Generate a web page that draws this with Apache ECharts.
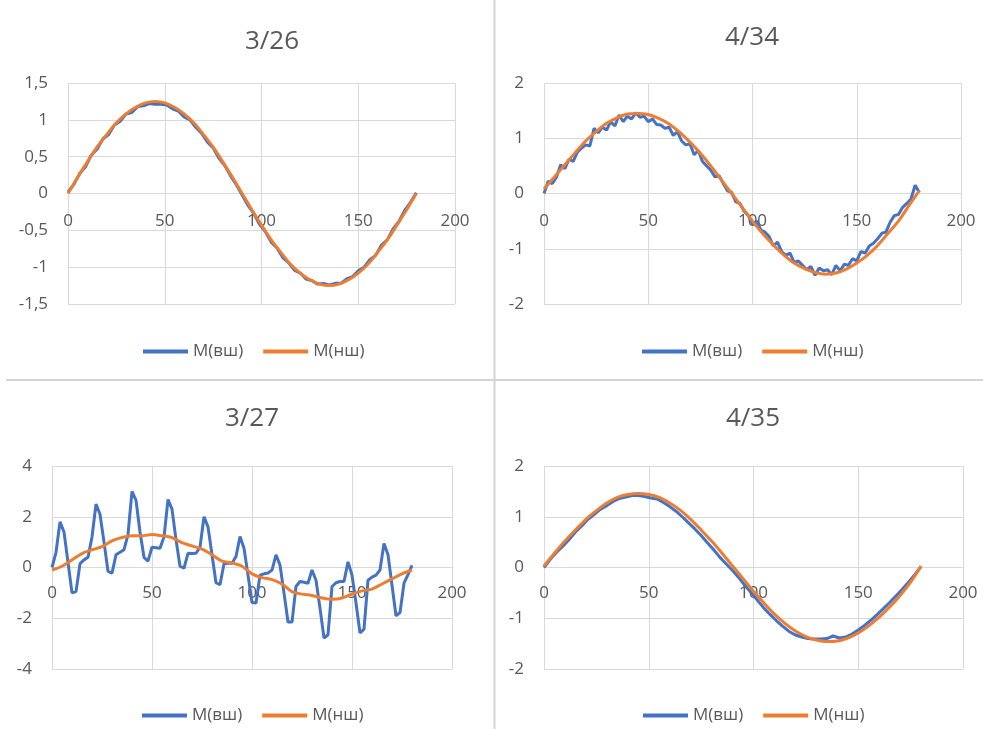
<!DOCTYPE html>
<html>
<head>
<meta charset="utf-8">
<script src="https://cdn.jsdelivr.net/npm/echarts@6/dist/echarts.min.js"></script>
<style>
html,body{margin:0;padding:0;background:#fff;}
#chart{width:983px;height:729px;}
</style>
</head>
<body>
<div id="chart"></div>
<script>
// ---- Data ----
var titles = ['3/26', '4/34', '3/27', '4/35'];
var seriesNames = ['М(вш)', 'М(нш)'];
var xTicks = [0, 50, 100, 150, 200];

var xStep2 = [0,2,4,6,8,10,12,14,16,18,20,22,24,26,28,30,32,34,36,38,40,42,44,46,48,50,52,54,56,58,60,62,64,66,68,70,72,74,76,78,80,82,84,86,88,90,92,94,96,98,100,102,104,106,108,110,112,114,116,118,120,122,124,126,128,130,132,134,136,138,140,142,144,146,148,150,152,154,156,158,160,162,164,166,168,170,172,174,176,178,180];
var xStep3 = [0,3,6,9,12,15,18,21,24,27,30,33,36,39,42,45,48,51,54,57,60,63,66,69,72,75,78,81,84,87,90,93,96,99,102,105,108,111,114,117,120,123,126,129,132,135,138,141,144,147,150,153,156,159,162,165,168,171,174,177,180];
var xStep5 = [0,5,10,15,20,25,30,35,40,45,50,55,60,65,70,75,80,85,90,95,100,105,110,115,120,125,130,135,140,145,150,155,160,165,170,175,180];

// Chart 3/26
var blue326 = [0.02,0.12,0.27,0.36,0.52,0.60,0.74,0.80,0.93,0.98,1.08,1.10,1.18,1.19,1.22,1.21,
  1.21,1.20,1.15,1.12,1.04,1.00,0.90,0.82,0.70,0.62,0.48,0.38,0.24,0.12,-0.02,
  -0.16,-0.27,-0.42,-0.52,-0.66,-0.74,-0.87,-0.94,-1.04,-1.08,-1.16,-1.18,-1.23,-1.22,-1.24,
  -1.22,-1.22,-1.16,-1.13,-1.05,-1.00,-0.90,-0.84,-0.70,-0.63,-0.48,-0.38,-0.23,-0.12,0.01];
var orange326 = [0,0.22,0.43,0.63,0.80,0.96,1.08,1.17,1.23,1.25,1.23,1.17,1.08,0.96,0.80,0.63,0.43,0.22,0,
  -0.22,-0.43,-0.63,-0.80,-0.96,-1.08,-1.17,-1.23,-1.25,-1.23,-1.17,-1.08,-0.96,-0.80,-0.63,-0.43,-0.22,0];

// Chart 4/34
var blue434 = [0.0,0.22,0.18,0.30,0.52,0.45,0.62,0.58,0.75,0.82,0.88,0.86,1.18,1.10,1.20,1.15,1.30,1.22,1.42,1.30,1.40,1.35,1.46,1.38,1.40,1.30,1.35,1.25,1.24,1.18,1.20,1.05,1.12,0.95,0.88,0.90,0.70,0.78,0.58,0.50,0.42,0.30,0.32,0.18,0.05,0.02,
  -0.15,-0.18,-0.32,-0.40,-0.55,-0.50,-0.66,-0.70,-0.78,-0.95,-0.88,-1.05,-1.12,-1.08,-1.25,-1.22,-1.30,-1.38,-1.32,-1.48,-1.35,-1.40,-1.38,-1.47,-1.30,-1.40,-1.28,-1.30,-1.18,-1.22,-1.05,-1.08,-0.95,-0.90,-0.82,-0.72,-0.70,-0.52,-0.40,-0.38,-0.25,-0.18,-0.10,0.15,0.02];
var orange434 = [0.08,0.30,0.52,0.74,0.95,1.12,1.27,1.37,1.44,1.45,1.43,1.36,1.26,1.11,0.93,0.73,0.50,0.25,0.0,
  -0.25,-0.50,-0.73,-0.93,-1.11,-1.26,-1.36,-1.43,-1.46,-1.44,-1.37,-1.26,-1.12,-0.94,-0.72,-0.50,-0.22,0.05];

// Chart 3/27
var blue327 = [0.0,0.6,1.8,1.4,0.2,-1.0,-0.95,0.15,0.3,0.4,1.2,2.5,2.1,1.0,-0.15,-0.22,0.5,0.6,0.7,1.3,3.0,2.65,1.4,0.4,0.25,0.8,0.78,0.76,1.2,2.68,2.3,1.1,0.05,-0.03,0.56,0.55,0.56,0.8,2.0,1.6,0.5,-0.6,-0.68,0.15,0.17,0.17,
  0.43,1.22,0.76,-0.3,-1.38,-1.40,-0.3,-0.25,-0.22,-0.1,0.5,0.1,-1.0,-2.15,-2.15,-0.75,-0.55,-0.58,-0.62,-0.1,-0.5,-1.6,-2.78,-2.65,-0.75,-0.6,-0.55,-0.55,0.22,-0.3,-1.4,-2.58,-2.43,-0.5,-0.38,-0.3,-0.1,0.95,0.5,-0.7,-1.9,-1.78,-0.62,-0.28,0.08];
var orange327 = [-0.10,0.05,0.30,0.55,0.70,0.82,1.05,1.18,1.25,1.25,1.30,1.25,1.18,0.98,0.85,0.72,0.50,0.25,0.18,0.05,
  -0.25,-0.40,-0.48,-0.65,-0.95,-1.05,-1.10,-1.20,-1.25,-1.20,-1.05,-0.92,-0.85,-0.65,-0.45,-0.25,-0.10];

// Chart 4/35
var blue435 = [0.0,0.16,0.30,0.42,0.55,0.70,0.82,0.95,1.05,1.15,1.22,1.30,1.36,1.39,1.42,1.42,
  1.40,1.37,1.35,1.28,1.20,1.11,1.00,0.88,0.76,0.63,0.49,0.35,0.20,0.07,-0.06,
  -0.20,-0.36,-0.50,-0.65,-0.80,-0.93,-1.05,-1.16,-1.26,-1.33,-1.37,-1.40,-1.41,-1.41,-1.40,
  -1.35,-1.39,-1.37,-1.31,-1.23,-1.14,-1.04,-0.93,-0.81,-0.69,-0.56,-0.43,-0.29,-0.14,0.02];
var orange435 = [0.03,0.28,0.52,0.74,0.95,1.12,1.27,1.38,1.44,1.46,1.44,1.38,1.27,1.13,0.95,0.74,0.52,0.28,0.03,
  -0.22,-0.47,-0.70,-0.92,-1.10,-1.25,-1.36,-1.43,-1.46,-1.45,-1.39,-1.29,-1.15,-0.98,-0.78,-0.55,-0.29,0.03];

// y-axis ranges per chart [min, max, interval]
var yRanges = [[-1.5, 1.5, 0.5], [-2, 2, 1], [-4, 4, 2], [-2, 2, 1]];

// ---- Build ----
function zip(xs, ys) { return ys.map(function (v, i) { return [xs[i], v]; }); }

var BLUE = '#4472C4', ORANGE = '#ED7D31', GRID = '#d9d9d9', TXT = '#595959';
var FONT = 'Open Sans';

var panels = [
  { grid: {left: 68, top: 83, width: 387, height: 221}, title: {x: 267, y: 24}, legend: {left: 138, top: 338},
    blue: zip(xStep3, blue326), orange: zip(xStep5, orange326) },
  { grid: {left: 544, top: 83, width: 417, height: 221}, title: {x: 747, y: 20}, legend: {left: 637, top: 338},
    blue: zip(xStep2, blue434), orange: zip(xStep5, orange434) },
  { grid: {left: 52, top: 466, width: 400, height: 203}, title: {x: 247, y: 401}, legend: {left: 137, top: 702},
    blue: zip(xStep2, blue327), orange: zip(xStep5, orange327) },
  { grid: {left: 544, top: 466, width: 419, height: 203}, title: {x: 748, y: 401}, legend: {left: 638, top: 702},
    blue: zip(xStep3, blue435), orange: zip(xStep5, orange435) }
];

var option = {
  animation: false,
  backgroundColor: '#fff',
  textStyle: { fontFamily: FONT },
  title: [], legend: [], grid: [], xAxis: [], yAxis: [], series: [],
  graphic: [
    { type: 'line', shape: {x1: 494.5, y1: 0, x2: 494.5, y2: 729}, style: {stroke: '#d4d4d4', lineWidth: 2}, silent: true },
    { type: 'line', shape: {x1: 6, y1: 380, x2: 983, y2: 380}, style: {stroke: '#d4d4d4', lineWidth: 2}, silent: true }
  ]
};

panels.forEach(function (p, i) {
  var r = yRanges[i];
  // place the horizontal axis at value 0 of the y range
  var zeroOffset = -p.grid.height * (0 - r[0]) / (r[1] - r[0]);
  option.title.push({
    text: titles[i], left: p.title.x, top: p.title.y, textAlign: 'center',
    textStyle: { fontFamily: FONT, fontSize: 26, fontWeight: 'normal', color: TXT }
  });
  option.legend.push({
    data: seriesNames, left: p.legend.left, top: p.legend.top,
    icon: 'rect', itemWidth: 45, itemHeight: 4, itemGap: 20,
    textStyle: { fontFamily: FONT, fontSize: 17, color: TXT },
    selectedMode: false
  });
  option.grid.push(Object.assign({ containLabel: false }, p.grid));
  option.xAxis.push({
    type: 'value', gridIndex: i, position: 'bottom', offset: zeroOffset,
    min: xTicks[0], max: xTicks[xTicks.length - 1], interval: 50,
    axisLine: { show: true, onZero: false, lineStyle: { color: GRID, width: 1 } },
    axisTick: { show: false },
    axisLabel: { margin: i < 2 ? 19 : 17, fontSize: 17, color: TXT, fontFamily: FONT },
    splitLine: { show: true, lineStyle: { color: GRID, width: 1 } }
  });
  option.yAxis.push({
    type: 'value', gridIndex: i, min: r[0], max: r[1], interval: r[2],
    axisLine: { show: false }, axisTick: { show: false },
    axisLabel: { margin: 20, fontSize: 17, color: TXT, fontFamily: FONT,
      formatter: function (v) { return String(v).replace('.', ','); } },
    splitLine: { show: true, lineStyle: { color: GRID, width: 1 } }
  });
  option.series.push({
    name: seriesNames[0], type: 'line', xAxisIndex: i, yAxisIndex: i,
    data: p.blue, showSymbol: false, symbol: 'none',
    lineStyle: { color: BLUE, width: 3 }, itemStyle: { color: BLUE }, z: 2
  });
  option.series.push({
    name: seriesNames[1], type: 'line', xAxisIndex: i, yAxisIndex: i,
    data: p.orange, showSymbol: false, symbol: 'none', smooth: 0.3,
    lineStyle: { color: ORANGE, width: 3 }, itemStyle: { color: ORANGE }, z: 3
  });
});

var chart = echarts.init(document.getElementById('chart'), null, { renderer: 'canvas' });
chart.setOption(option);
</script>
</body>
</html>
